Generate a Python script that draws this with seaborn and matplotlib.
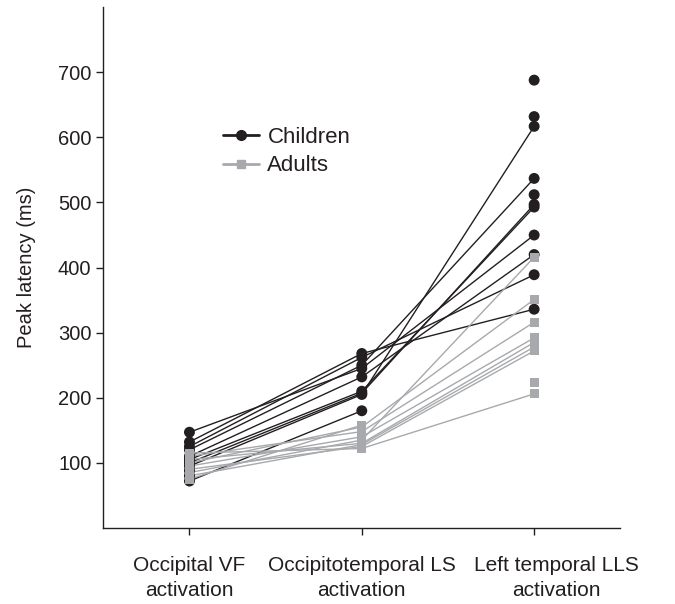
import numpy as np
import pandas as pd
import seaborn as sns
import matplotlib.pyplot as plt
from matplotlib.lines import Line2D
from matplotlib.transforms import ScaledTranslation

# ----------------------------------------------------
# data (peak latency in ms, NaN = no value)
# ----------------------------------------------------
CONDITIONS = ["Occipital VF\nactivation", "Occipitotemporal LS\nactivation",
              "Left temporal LLS\nactivation"]

children_vf = [147, 132, 125, 120, 110, 105, 100, 95, 72, 88, 80, np.nan]
children_ls = [245, 268, 262, 250, 232, 210, 207, 205, 180, np.nan, np.nan, np.nan]
children_lls = [450, 336, 389, 537, 420, 493, 497, 617, np.nan, 688, 512, 632]

adults_vf = [85, 100, 110, 95, 105, 80, 90, 115, 75, np.nan]
adults_ls = [135, 155, 148, 140, 130, 128, 125, 122, 158, np.nan]
adults_lls = [416, 351, 316, 292, 285, 278, 272, 206, np.nan, 223]

GROUPS = ["Children", "Adults"]
COLORS = {"Children": "#231f20", "Adults": "#a7a9ac"}
MARKERS = {"Children": "o", "Adults": "s"}

# ----------------------------------------------------
# long tables: points and line segments
# ----------------------------------------------------
group_vals = {
    "Children": [children_vf, children_ls, children_lls],
    "Adults": [adults_vf, adults_ls, adults_lls],
}

point_rows = []
seg_rows = []
for group in GROUPS:
    cols = group_vals[group]
    for i, subj in enumerate(zip(*cols)):
        for pos, v in enumerate(subj):
            if not np.isnan(v):
                point_rows.append((group, pos, v))
        for seg in range(2):
            a, b = subj[seg], subj[seg + 1]
            if not (np.isnan(a) or np.isnan(b)):
                unit = f"{group}{i}-{seg}"
                seg_rows.append((group, unit, seg, a))
                seg_rows.append((group, unit, seg + 1, b))

points = pd.DataFrame(point_rows, columns=["group", "pos", "latency"])
segs = pd.DataFrame(seg_rows, columns=["group", "unit", "pos", "latency"])

# ----------------------------------------------------
# plot
# ----------------------------------------------------
sns.set_style("ticks")
plt.rcParams["font.family"] = ["Liberation Sans", "DejaVu Sans"]
ink = "#231f20"

fig = plt.figure(figsize=(6.75, 6.04), dpi=100)
ax = fig.add_axes([0.153, 0.126, 0.766, 0.862])

for group in GROUPS:
    sns.lineplot(data=segs[segs.group == group], x="pos", y="latency",
                 units="unit", estimator=None, color=COLORS[group],
                 lw=1.0, sort=False, ax=ax, legend=False)

for group in GROUPS:
    sns.scatterplot(data=points[points.group == group], x="pos", y="latency",
                    color=COLORS[group], marker=MARKERS[group],
                    s=62 if group == "Children" else 42,
                    edgecolor="none", linewidth=0, ax=ax, legend=False,
                    zorder=3)

ax.set_xlim(-0.5, 2.5)
ax.set_ylim(0, 800)
ax.set_yticks(range(100, 701, 100))
ax.set_xticks(range(3))
ax.set_xticklabels(CONDITIONS, fontsize=15, color=ink, linespacing=1.45)
ax.tick_params(axis="y", labelsize=14.5, labelcolor=ink)
ax.tick_params(axis="x", pad=15)
ax.tick_params(axis="both", direction="out", length=5, width=1.0, color=ink)
# the last label sits a little to the right in the original
lab = ax.get_xticklabels()[2]
lab.set_transform(lab.get_transform() + ScaledTranslation(0.22, 0, fig.dpi_scale_trans))
ax.set_xlabel("")
ax.set_ylabel("Peak latency (ms)", fontsize=14.5, color=ink, labelpad=16)

sns.despine(ax=ax)
for side in ("left", "bottom"):
    ax.spines[side].set_color(ink)
    ax.spines[side].set_linewidth(1.0)

handles = [Line2D([], [], color=COLORS[g], marker=MARKERS[g], lw=2,
                  markersize=7 if g == "Children" else 5.5) for g in GROUPS]
ax.legend(handles, GROUPS, loc="upper left", bbox_to_anchor=(0.21, 0.792),
          frameon=False, fontsize=16, handlelength=1.6, handletextpad=0.4,
          labelspacing=0.35, borderpad=0, labelcolor=ink)

fig.savefig("out.png", dpi=100)
